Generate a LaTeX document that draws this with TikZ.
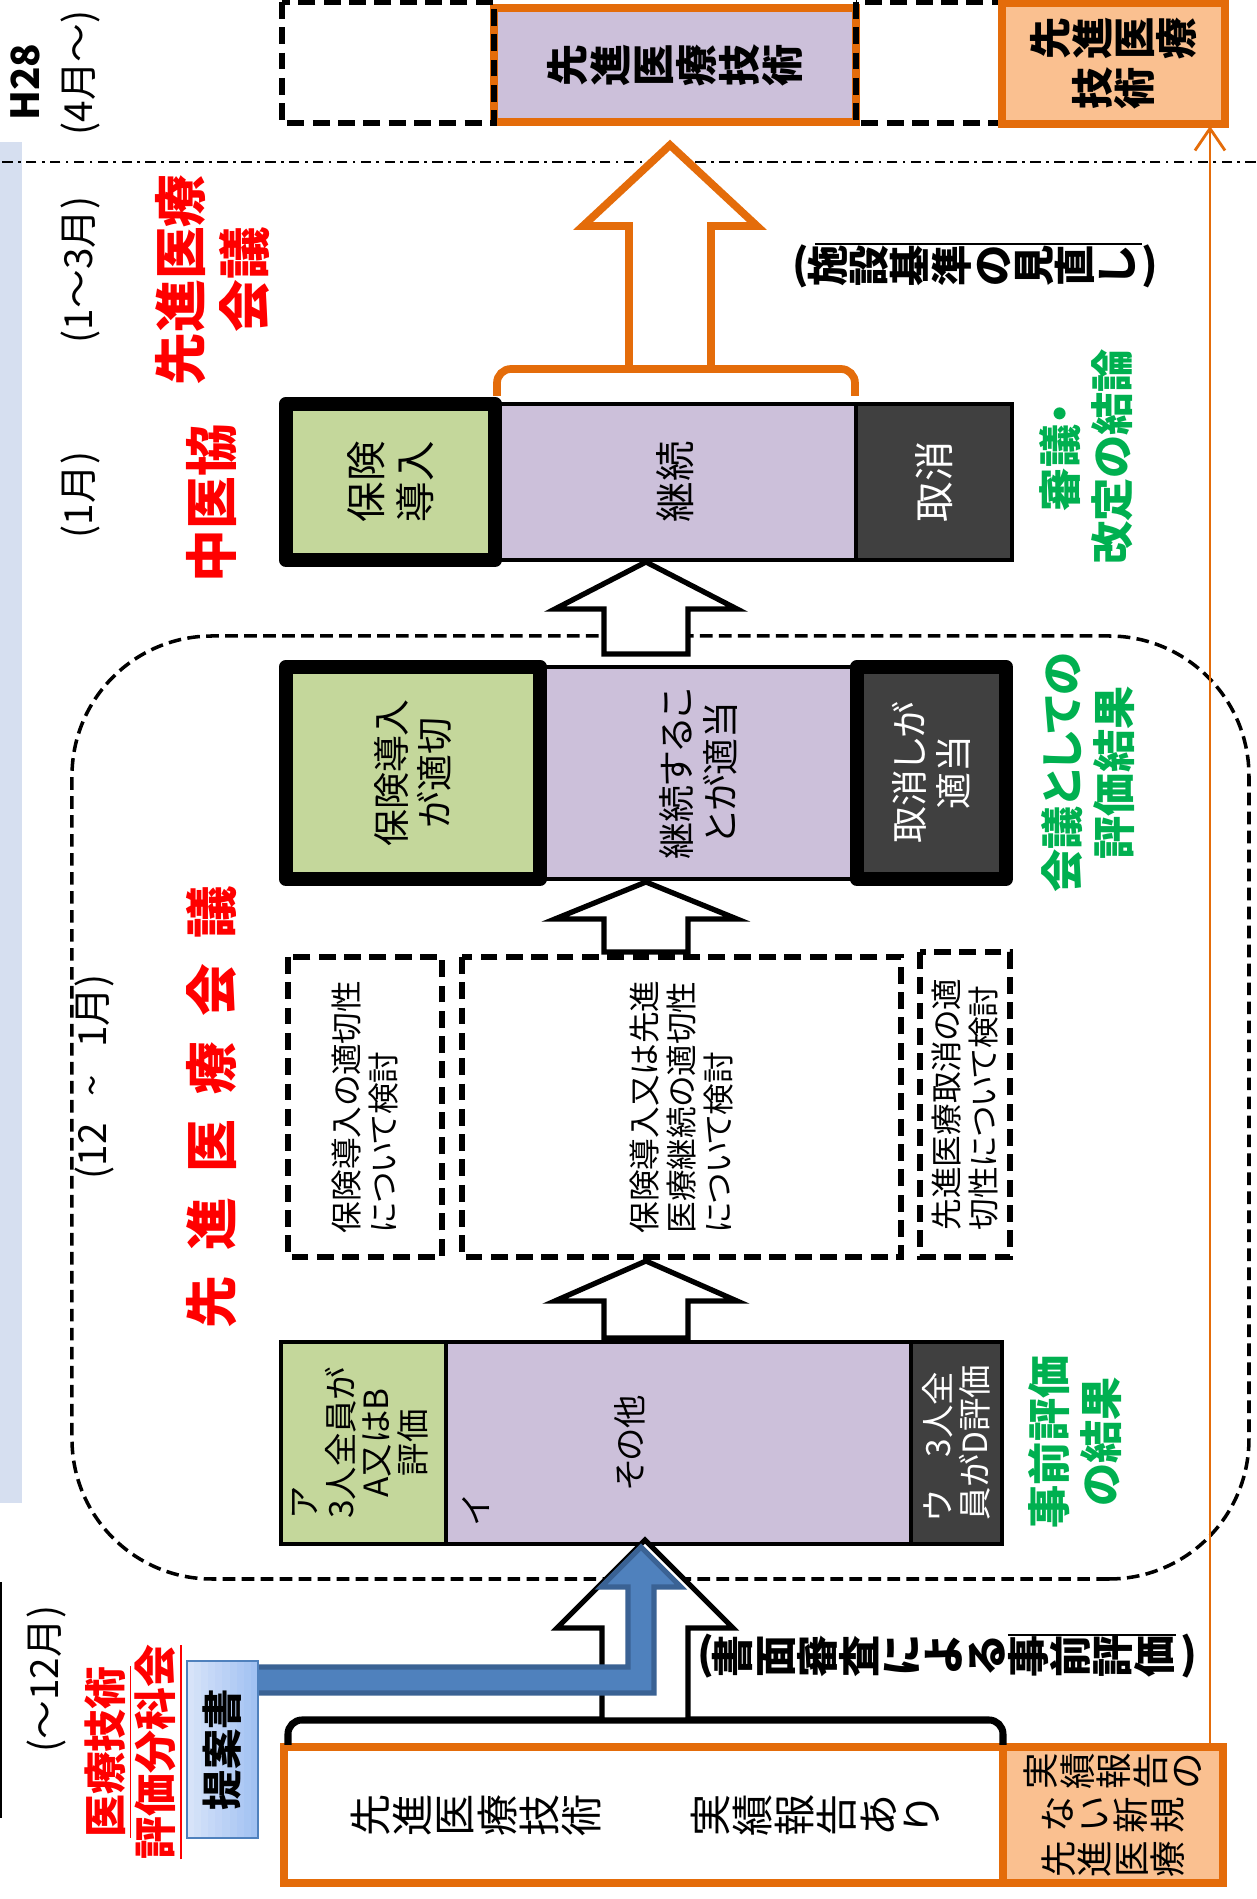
\documentclass[tikz,border=0pt]{standalone}
\usepackage{fontspec}
\setmainfont{Noto Sans CJK JP}[RawFeature=+palt]
\usepackage{graphicx}
\usetikzlibrary{arrows.meta}
\definecolor{okgreen}{HTML}{C4D79B}
\definecolor{okpurple}{HTML}{CCC0DA}
\definecolor{okdark}{HTML}{404040}
\definecolor{okorange}{HTML}{E46C0A}
\definecolor{okpeach}{HTML}{FAC090}
\definecolor{okleaf}{HTML}{00B050}
\definecolor{okblue}{HTML}{4F81BD}
\definecolor{okbluedk}{HTML}{3A6294}
\definecolor{okbar}{HTML}{D6DFF0}
\definecolor{okpale}{HTML}{DDE7FA}
\definecolor{oksky}{HTML}{A2C2F2}
\newcommand{\vpar}[1]{\rotatebox[origin=c]{-90}{#1}}
\newcommand{\tcol}[1]{\parbox[c]{1.2em}{\centering #1}}
\newcommand{\hollowarrow}[7]{%
  \draw[#1] (#2,#5-#6) -- (#3,#5-#6) -- (#3,#5-#7) -- (#4,#5)
    -- (#3,#5+#7) -- (#3,#5+#6) -- (#2,#5+#6) -- cycle;}
\tikzset{
  cell/.style={draw=black,line width=1.3pt,inner sep=0pt,align=center},
  inscell/.style={cell,fill=okgreen},
  contcell/.style={cell,fill=okpurple},
  dropcell/.style={cell,fill=okdark,text=white},
  heavy/.style={line width=4pt,line join=round},
  chkbox/.style={draw=black,line width=1.9pt,dash pattern=on 4.8pt off 2.4pt,
    inner sep=0pt,align=left,font=\fontsize{9}{10.5}\selectfont},
  slotbox/.style={chkbox,line width=1.5pt},
  advcell/.style={draw=okorange,line width=2.2pt,inner sep=0pt},
  newcell/.style={advcell,fill=okpeach},
  propbox/.style={draw=okblue,line width=0.8pt,inner sep=0pt,font=\fontsize{11.5}{13}\bfseries\selectfont},
  council/.style={draw=black,line width=1pt,dash pattern=on 3.6pt off 1.8pt,rounded corners=1.4cm},
  phase/.style={line width=0.6pt,dash pattern=on 3pt off 1.5pt on 0.8pt off 1.5pt},
  warrow/.style={draw=black,fill=white,line width=1.5pt},
  oarrow/.style={draw=okorange,fill=white,line width=2.2pt},
  barrow/.style={draw=okbluedk,fill=okblue,line width=1.5pt},
  brk/.style={draw=black,line width=2pt,rounded corners=4pt},
  obrk/.style={draw=okorange,line width=2.2pt,rounded corners=4pt},
  sideln/.style={line width=0.6pt},
  feed/.style={draw=okorange,line width=0.8pt,-{Straight Barb[length=2.2mm,width=3mm]}},
  month/.style={inner sep=0pt,font=\fontsize{11}{13}\selectfont},
  redlbl/.style={inner sep=0pt,text=red,align=center,font=\fontsize{15}{18}\bfseries\selectfont},
  grnlbl/.style={inner sep=0pt,text=okleaf,align=center,font=\fontsize{12.3}{14.8}\bfseries\selectfont},
  vtext/.style={inner sep=0pt,font=\fontsize{12}{12}\bfseries\selectfont},
  btext/.style={inner sep=0pt,font=\fontsize{12}{12}\selectfont},
}

\begin{document}
\begin{tikzpicture}[x=0.01cm,y=0.01cm,rotate=90,transform shape]
  \useasboundingbox (0,0) rectangle (1899,1256);
  % time axis
  \fill[okbar] (396,1234) rectangle (1757,1256);
  \draw[line width=0.6pt] (81,1255) -- (317,1255);
  \draw[phase] (1737,0) -- (1737,1256);
  \draw[council] (320,7) rectangle (1263,1184);

  % H28 row
  \node[advcell,fill=okpurple,minimum width=1.14cm,minimum height=3.62cm,
    font=\fontsize{12}{12.2}\bfseries\selectfont] (tcur) at (1834,581) {\tcol{先\\進\\医\\療\\技\\術}};
  \node[slotbox,minimum width=1.21cm,minimum height=2.12cm] (tins) at (1836.5,868) {};
  \node[slotbox,minimum width=1.21cm,minimum height=1.45cm] (tdel) at (1836.5,327.5) {};
  \node[newcell,minimum width=1.21cm,minimum height=2.23cm,
    font=\fontsize{12}{12}\bfseries\selectfont] (tnew) at (1835.5,142.5) {\tcol{技\\術}\tcol{先\\進\\医\\療}};
  \hollowarrow{oarrow}{1530}{1673}{1754}{586}{41}{87}
  \draw[obrk] (1503,759) -- (1530,759) -- (1530,401) -- (1503,401);

  % chuikyo row
  \node[contcell,minimum width=1.56cm,minimum height=3.61cm,font=\fontsize{11.5}{14}\selectfont] (cont1) at (1417,580.5) {継続};
  \node[dropcell,minimum width=1.56cm,minimum height=1.56cm,font=\fontsize{11.5}{14}\selectfont] (drop1) at (1417,322) {取消};
  \node[inscell,heavy,minimum width=1.56cm,minimum height=2.09cm,font=\fontsize{11.5}{14}\selectfont] (ins1) at (1417,865.5) {保険\\導入};

  % council result row
  \node[contcell,minimum width=2.12cm,minimum height=3.17cm,font=\fontsize{10.5}{12.5}\selectfont] (cont2) at (1126,557.5) {継続するこ\\とが適当};
  \node[dropcell,heavy,minimum width=2.12cm,minimum height=1.49cm,font=\fontsize{10.5}{12.5}\selectfont] (drop2) at (1126,324.5) {取消しが\\適当};
  \node[inscell,heavy,minimum width=2.12cm,minimum height=2.54cm,font=\fontsize{10.5}{12.5}\selectfont] (ins2) at (1126,843) {保険導入\\が適切};

  % review row
  \node[chkbox,minimum width=3cm,minimum height=1.54cm] (chkA) at (792,891) {保険導入の適切性\\について検討};
  \node[chkbox,minimum width=3cm,minimum height=4.39cm] (chkB) at (792,574.5) {保険導入又は先進\\医療継続の適切性\\について検討};
  \node[chkbox,minimum width=3.05cm,minimum height=0.9cm] (chkC) at (794.5,291) {先進医療取消の適\\切性について検討};

  % prior evaluation row
  \node[contcell,minimum width=2.02cm,minimum height=4.65cm] (cont3) at (456,577.5) {};
  \node[dropcell,minimum width=2.02cm,minimum height=0.91cm,align=left,font=\fontsize{9.5}{10.5}\selectfont] (drop3) at (456,299.5) {ウ　3人全\\員がD評価};
  \node[inscell,minimum width=2.02cm,minimum height=1.65cm,font=\fontsize{9.5}{8.5}\selectfont] (ins3) at (456,892.5)
    {\begin{tabular}{@{}c@{}}\multicolumn{1}{@{}l@{}}{ア}\\3人全員が\\A又はB\\評価\end{tabular}};
  \node[inner sep=0pt,font=\fontsize{9.5}{10.5}\selectfont] (iro) at (388,780) {イ};
  \node[inner sep=0pt,font=\fontsize{9.5}{10.5}\selectfont] (sono) at (456,626) {その他};

  % hollow arrows between rows
  \hollowarrow{warrow}{1245}{1290}{1337}{610}{42}{91}
  \hollowarrow{warrow}{947}{980}{1017}{610}{42}{91}
  \hollowarrow{warrow}{561}{598}{638}{610}{42}{91}

  % proposals
  \node[cell,draw=okorange,line width=2.2pt,fill=white,minimum width=1.36cm,minimum height=7.19cm] (bold) at (84,612.5) {};
  \node[newcell,minimum width=1.36cm,minimum height=2.2cm,font=\fontsize{10.4}{10.4}\selectfont] (bnew) at (84,143)
    {\tcol{先\\進\\医\\療}\tcol{な\\い\\新\\規}\tcol{実\\績\\報\\告\\の}};
  \node[btext] (btech) at (84,780) {\tcol{先\\進\\医\\療\\技\\術}};
  \node[btext] (brep) at (84,441) {\tcol{実\\績\\報\\告\\あ\\り}};
  \draw[brk] (154,968) -- (179,968) -- (179,253) -- (154,253);
  \hollowarrow{warrow}{179}{271}{359}{611}{43}{88}
  \draw[barrow] (206,1000) -- (232,1000) -- (232,628) -- (312,628) -- (312,655)
    -- (352,615) -- (312,575) -- (312,602) -- (206,602) -- cycle;
  \foreach \k in {0,...,9}
    \fill[okpale!\k0!oksky] (61,998+7.1*\k) rectangle (238,1005.2+7.1*\k);
  \node[propbox,minimum width=1.77cm,minimum height=0.71cm] (prop) at (149.5,1033.5) {提案書};

  % new technology path
  \coordinate (newlow) at (155,46);
  \coordinate (newtop) at (1773,46);
  \draw[feed] (newlow) -- (newtop);

  % period labels
  \node[month,font=\fontsize{11}{13}\bfseries\selectfont] (h28) at (1817,1231) {H28};
  \node[month] (m4) at (1826,1176) {(4月～)};
  \node[month] (m13) at (1629,1176) {(1～3月)};
  \node[month] (m1) at (1404,1176) {(1月)};
  \node[month] (m121) at (822,1162) {(12\hspace{0.7em}\textasciitilde\hspace{0.7em}1月)};
  \node[month] (m12) at (220,1210) {(～12月)};

  % bodies
  \node[redlbl] (lbadv) at (1619,1043.5) {先進医療\\会議};
  \node[redlbl] (lbchu) at (1396,1044) {中医協};
  \node[redlbl] (lbcon) at (792,1044) {先\hspace{7.2pt}進\hspace{7.2pt}医\hspace{7.2pt}療\hspace{7.2pt}会\hspace{7.2pt}議};
  \node[redlbl,font=\fontsize{12.2}{14.2}\bfseries\selectfont] (lbsub) at (147,1122) {\underline{医療技術}\\\underline{評価分科会}};

  % outcome labels
  \node[grnlbl] (gdec) at (1442,170) {審議・\\改定の結論};
  \node[grnlbl] (geval) at (1126,168) {会議としての\\評価結果};
  \node[grnlbl] (gpre) at (457,181) {事前評価\\の結果};

  % notes in vertical writing
  \node[vtext,font=\fontsize{11.75}{11.75}\bfseries\selectfont] (kijun) at (1633,278)
    {\tcol{\vpar{(}\\[-0.3em]施\\設\\基\\準\\の\\見\\直\\し\\[-0.25em]\vpar{)}}};
  \draw[sideln] (1655,441) -- (1655,114);
  \node[vtext] (shomen) at (243,306)
    {\tcol{\vpar{(}\\[-0.3em]書\\面\\審\\査\\に\\よ\\る\\事\\前\\評\\価\\[-0.25em]\vpar{)}}};
  \draw[sideln] (264,248) -- (264,80);
\end{tikzpicture}
\end{document}
